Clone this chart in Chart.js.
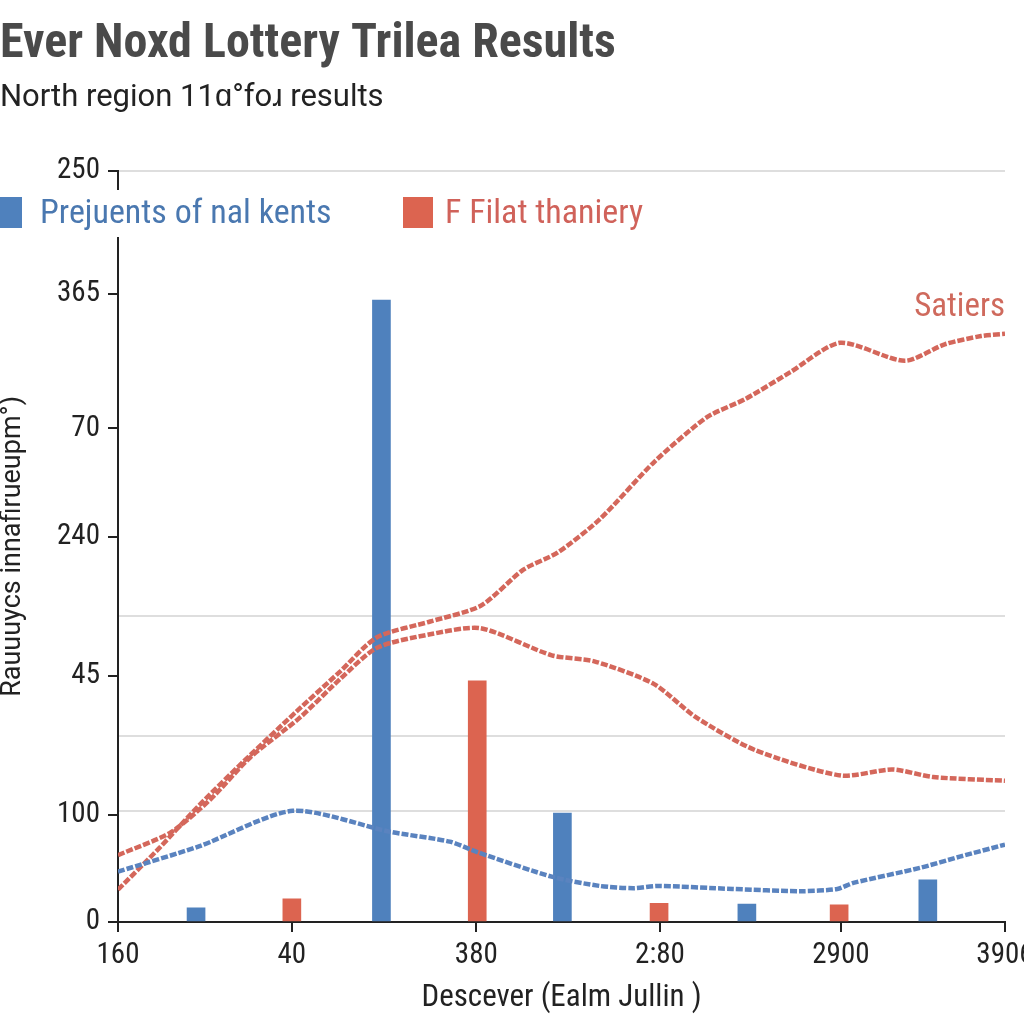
<!DOCTYPE html>
<html>
<head>
<meta charset="utf-8">
<script src="https://cdn.jsdelivr.net/npm/chart.js@4.4.1/dist/chart.umd.min.js"></script>
<style>
  html, body { margin: 0; padding: 0; background: #fff; }
  canvas { display: block; }
</style>
</head>
<body>
<canvas id="chart" width="1024" height="1024"></canvas>
<script>
// Axis ticks (the axis labels are not monotonic in the source, so ticks sit at fixed values)
const xTickValues = [0, 19.6, 40.4, 61.1, 81.5, 100];
const xTickLabels = ['160', '40', '380', '2:80', '2900', '3906'];
const yTickValues = [0, 14.3, 32.8, 51.3, 65.7, 83.6, 100];
const yTickLabels = ['0', '100', '45', '240', '70', '365', '250'];
const gridValues = [14.8, 24.7, 40.7, 100];

// Bars
const blueBarX = [8.8, 29.7, 50.1, 70.9, 91.3];
const blueBarY = [1.9, 82.8, 14.5, 2.4, 5.6];
const redBarX = [19.6, 40.5, 61.0, 81.3];
const redBarY = [3.1, 32.1, 2.5, 2.3];

// Dashed lines
const blueLineX = [0, 9.2, 19.7, 30.7, 37.4, 40.5, 49.0, 54.3, 58.1, 60.8, 69.3, 76.9, 81.1, 82.9, 90.4, 94.9, 100];
const blueLineY = [6.7, 10.1, 14.8, 12.0, 10.7, 9.3, 6.0, 4.8, 4.5, 4.8, 4.4, 4.1, 4.4, 5.2, 7.2, 8.7, 10.3];
const satiersX = [0, 4.7, 9.2, 14.1, 20.1, 25.0, 29.2, 35.2, 40.9, 45.7, 49.6, 54.3, 60.5, 66.4, 70.7, 75.8, 81.4, 88.7, 93.2, 97.3, 100];
const satiersY = [4.3, 9.9, 15.6, 21.3, 28.0, 33.3, 37.9, 40.0, 42.1, 46.9, 49.2, 53.6, 61.3, 67.2, 69.6, 73.2, 77.1, 74.7, 76.9, 78.0, 78.3];
const humpX = [0, 5.9, 10.4, 14.9, 20.5, 25.0, 29.2, 35.2, 40.9, 48.9, 53.7, 60.4, 65.1, 71.8, 81.5, 87.3, 91.9, 100];
const humpY = [8.9, 11.9, 16.3, 21.9, 27.2, 32.3, 36.5, 38.3, 39.1, 35.5, 34.7, 31.7, 27.3, 22.9, 19.5, 20.3, 19.3, 18.8];

const legendItems = ['Prejuents of nal kents', 'F Filat thaniery'];
const lineLabel = 'Satiers';

const BLUE = '#4f81bd';
const RED = '#dc6450';
const BLUE_LINE = '#5a83bf';
const RED_LINE = '#d4675b';
const FONT = "'Liberation Sans Narrow', 'Roboto Condensed', Roboto, sans-serif";
const PLAIN = "Roboto, 'Liberation Sans', sans-serif";

Chart.defaults.font.family = FONT;
Chart.defaults.color = '#222';

const pts = (xs, ys) => xs.map((x, i) => ({ x: x, y: ys[i] }));

// legend + line label drawn over the plot
const overlayPlugin = {
    id: 'overlay',
    afterDraw(chart) {
        const ctx = chart.ctx;
        const area = chart.chartArea;
        ctx.save();
        ctx.fillStyle = '#fff';
        ctx.fillRect(0, 190, 670, 47);

        ctx.font = '34px ' + FONT;
        ctx.textBaseline = 'middle';
        ctx.textAlign = 'left';
        ctx.fillStyle = BLUE;
        ctx.fillRect(0, 197, 22, 31);
        ctx.fillStyle = '#4a78b0';
        ctx.fillText(legendItems[0], 40, 214);

        ctx.fillStyle = RED;
        ctx.fillRect(403, 197, 30, 31);
        ctx.fillStyle = '#d0625a';
        ctx.fillText(legendItems[1], 445, 214);

        ctx.font = '33px ' + FONT;
        ctx.textAlign = 'right';
        ctx.fillStyle = '#cf6a5d';
        ctx.fillText(lineLabel, area.right, 308);
        ctx.restore();
    }
};

new Chart(document.getElementById('chart'), {
    type: 'bar',
    data: {
        datasets: [
            { type: 'line', label: 'blue line', data: pts(blueLineX, blueLineY), borderColor: BLUE_LINE, borderWidth: 4.5, borderDash: [7, 2], tension: 0.25, pointRadius: 0, order: 0 },
            { type: 'line', label: lineLabel, data: pts(satiersX, satiersY), borderColor: RED_LINE, borderWidth: 4.5, borderDash: [7, 2], tension: 0.25, pointRadius: 0, order: 0 },
            { type: 'line', label: 'hump', data: pts(humpX, humpY), borderColor: RED_LINE, borderWidth: 4.5, borderDash: [7, 2], tension: 0.25, pointRadius: 0, order: 0 },
            { label: legendItems[0], data: pts(blueBarX, blueBarY), backgroundColor: BLUE, barThickness: 18, grouped: false, order: 1 },
            { label: legendItems[1], data: pts(redBarX, redBarY), backgroundColor: RED, barThickness: 18, grouped: false, order: 1 }
        ]
    },
    options: {
        responsive: false,
        animation: false,
        devicePixelRatio: 1,
        layout: { padding: { left: 0, right: 19, top: 0, bottom: 0 } },
        scales: {
            x: {
                type: 'linear',
                min: 0,
                max: 100,
                offset: false,
                afterBuildTicks: (s) => { s.ticks = xTickValues.map(v => ({ value: v })); },
                afterFit: (s) => { s.height = 102; s.paddingLeft = 0; s.paddingRight = 0; },
                ticks: {
                    autoSkip: false,
                    maxRotation: 0,
                    padding: 6,
                    font: { size: 29 },
                    color: '#222',
                    callback: (v, i) => xTickLabels[i]
                },
                grid: { offset: false, drawOnChartArea: false, drawTicks: true, tickLength: 10, color: '#222', lineWidth: 2 },
                border: { color: '#222', width: 2 },
                title: { display: true, text: 'Descever (Ealm Jullin )', font: { size: 31 }, color: '#222', padding: { top: 0, bottom: 7 } }
            },
            y: {
                type: 'linear',
                position: 'left',
                min: 0,
                max: 100,
                afterBuildTicks: (s) => { s.ticks = yTickValues.map(v => ({ value: v })); },
                afterFit: (s) => { s.width = 118; },
                ticks: {
                    autoSkip: false,
                    padding: 8,
                    font: { size: 29 },
                    color: '#222',
                    callback: (v, i) => yTickLabels[i]
                },
                grid: { drawOnChartArea: false, drawTicks: true, tickLength: 10, color: '#222', lineWidth: 2 },
                border: { color: '#222', width: 2 },
                title: { display: true, text: 'Rauuuycs innafirueupm°)', font: { family: PLAIN, size: 27, lineHeight: 1 }, color: '#222', padding: 0 }
            },
            g: {
                type: 'linear',
                position: 'left',
                min: 0,
                max: 100,
                afterBuildTicks: (s) => { s.ticks = gridValues.map(v => ({ value: v })); },
                afterFit: (s) => { s.width = 0; },
                ticks: { display: false },
                grid: { drawTicks: false, color: '#dedede', lineWidth: 2 },
                border: { display: false }
            }
        },
        plugins: {
            legend: { display: false },
            tooltip: { enabled: false },
            title: {
                display: true,
                text: 'Ever Noxd Lottery Trilea Results',
                align: 'start',
                color: '#4a4a4a',
                font: { size: 48, weight: 'bold', lineHeight: 1.2 },
                padding: { top: 16, bottom: 6 }
            },
            subtitle: {
                display: true,
                text: 'North region 11ɑ°foɹ results',
                align: 'start',
                color: '#222',
                font: { family: PLAIN, size: 31, lineHeight: 1.2 },
                padding: { top: 0, bottom: 54 }
            }
        }
    },
    plugins: [overlayPlugin]
});
</script>
</body>
</html>
